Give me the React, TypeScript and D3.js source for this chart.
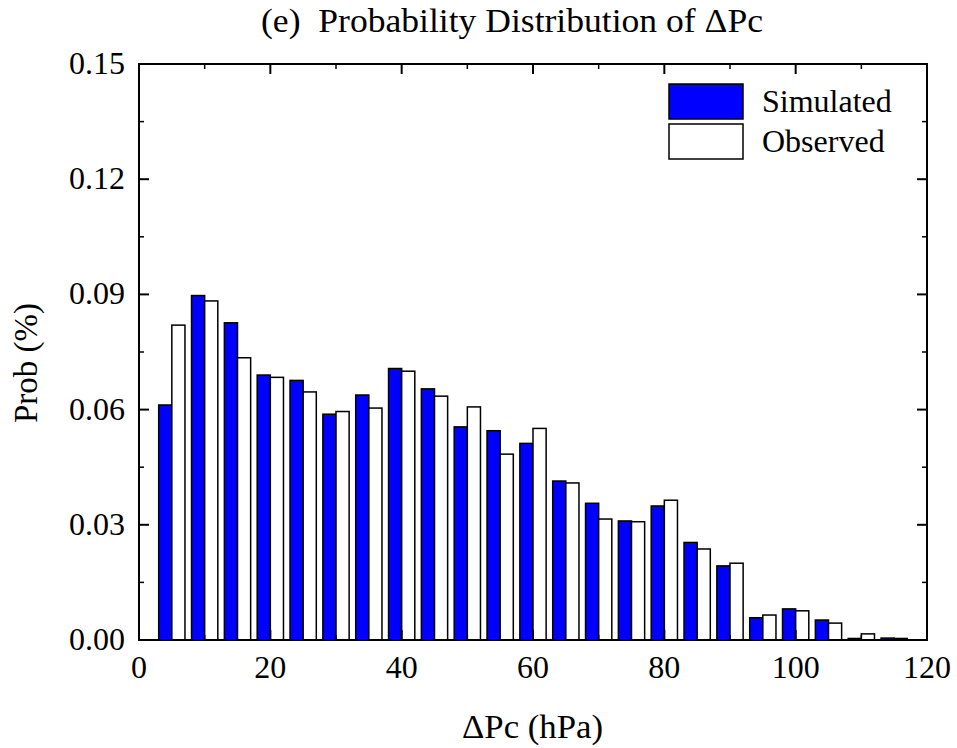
import React from "react";
import * as d3 from "d3";

const bins = [5, 10, 15, 20, 25, 30, 35, 40, 45, 50, 55, 60, 65, 70, 75, 80, 85, 90, 95, 100, 105, 110, 115];
const simulated = [0.0612, 0.0897, 0.0826, 0.0690, 0.0676, 0.0588, 0.0638, 0.0707, 0.0654, 0.0555, 0.0545, 0.0512, 0.0414, 0.0356, 0.0310, 0.0349, 0.0254, 0.0193, 0.0058, 0.0081, 0.0052, 0.0004, 0.0005];
const observed = [0.0820, 0.0883, 0.0735, 0.0684, 0.0646, 0.0595, 0.0604, 0.0700, 0.0635, 0.0607, 0.0484, 0.0551, 0.0409, 0.0315, 0.0308, 0.0364, 0.0237, 0.0200, 0.0065, 0.0076, 0.0044, 0.0016, 0.0004];
const yTicks = [0, 0.03, 0.06, 0.09, 0.12, 0.15];
const yMinor = [0.015, 0.045, 0.075, 0.105, 0.135];
const xTicks = [0, 20, 40, 60, 80, 100, 120];
const xMinor = [10, 30, 50, 70, 90, 110];
const seriesNames = ["Simulated", "Observed"];
const seriesColors = ["#0000ff", "#ffffff"];

const W = 957, H = 748;
const L = 139, R = 927, T = 64, B = 640;
const FONT = "'Liberation Serif', 'Times New Roman', serif";

export default function App() {
  const x = d3.scaleLinear().domain([0, 120]).range([L, R]);
  const y = d3.scaleLinear().domain([0, 0.15]).range([B, T]);
  const halfW = 2.0;
  return (
    <svg width={W} height={H} style={{ position: "absolute", left: 0, top: 0, background: "#fff" }} fontFamily={FONT}>
      <rect x={0} y={0} width={W} height={H} fill="#fff" />
      <text x={261} y={32} fontSize={34} textLength={502} lengthAdjust="spacingAndGlyphs" style={{ whiteSpace: "pre" }}>{"(e)  Probability Distribution of ΔPc"}</text>
      {bins.map((b, i) => (
        <g key={b}>
          <rect x={x(b - halfW)} y={y(simulated[i])} width={x(b) - x(b - halfW)} height={B - y(simulated[i])}
            fill={seriesColors[0]} stroke="#000" strokeWidth={1.5} />
          <rect x={x(b)} y={y(observed[i])} width={x(b + halfW) - x(b)} height={B - y(observed[i])}
            fill={seriesColors[1]} stroke="#000" strokeWidth={1.5} />
        </g>
      ))}
      <rect x={L} y={T} width={R - L} height={B - T} fill="none" stroke="#000" strokeWidth={2} />
      {yTicks.map((t) => (
        <g key={"y" + t}>
          <line x1={L} x2={L + 10} y1={y(t)} y2={y(t)} stroke="#000" strokeWidth={2} />
          <line x1={R} x2={R - 10} y1={y(t)} y2={y(t)} stroke="#000" strokeWidth={2} />
          <text x={L - 14} y={y(t) + 10} fontSize={32} textAnchor="end">{t.toFixed(2)}</text>
        </g>
      ))}
      {yMinor.map((t) => (
        <g key={"ym" + t}>
          <line x1={L} x2={L + 5} y1={y(t)} y2={y(t)} stroke="#000" strokeWidth={1.5} />
          <line x1={R} x2={R - 5} y1={y(t)} y2={y(t)} stroke="#000" strokeWidth={1.5} />
        </g>
      ))}
      {xTicks.map((t) => (
        <g key={"x" + t}>
          <line x1={x(t)} x2={x(t)} y1={B} y2={B - 10} stroke="#000" strokeWidth={2} />
          <line x1={x(t)} x2={x(t)} y1={T} y2={T + 10} stroke="#000" strokeWidth={2} />
          <text x={x(t)} y={678} fontSize={32} textAnchor="middle">{t}</text>
        </g>
      ))}
      {xMinor.map((t) => (
        <g key={"xm" + t}>
          <line x1={x(t)} x2={x(t)} y1={B} y2={B - 5} stroke="#000" strokeWidth={1.5} />
          <line x1={x(t)} x2={x(t)} y1={T} y2={T + 5} stroke="#000" strokeWidth={1.5} />
        </g>
      ))}
      <text x={462} y={738} fontSize={33} textLength={141} lengthAdjust="spacingAndGlyphs">ΔPc (hPa)</text>
      <text transform={`translate(37, 363) rotate(-90)`} fontSize={33} textAnchor="middle">Prob (%)</text>
      {seriesNames.map((n, i) => (
        <g key={n}>
          <rect x={669} y={84 + i * 40} width={74} height={35} fill={seriesColors[i]} stroke="#000" strokeWidth={1.5} />
          <text x={762} y={112 + i * 40} fontSize={32}>{n}</text>
        </g>
      ))}
    </svg>
  );
}
